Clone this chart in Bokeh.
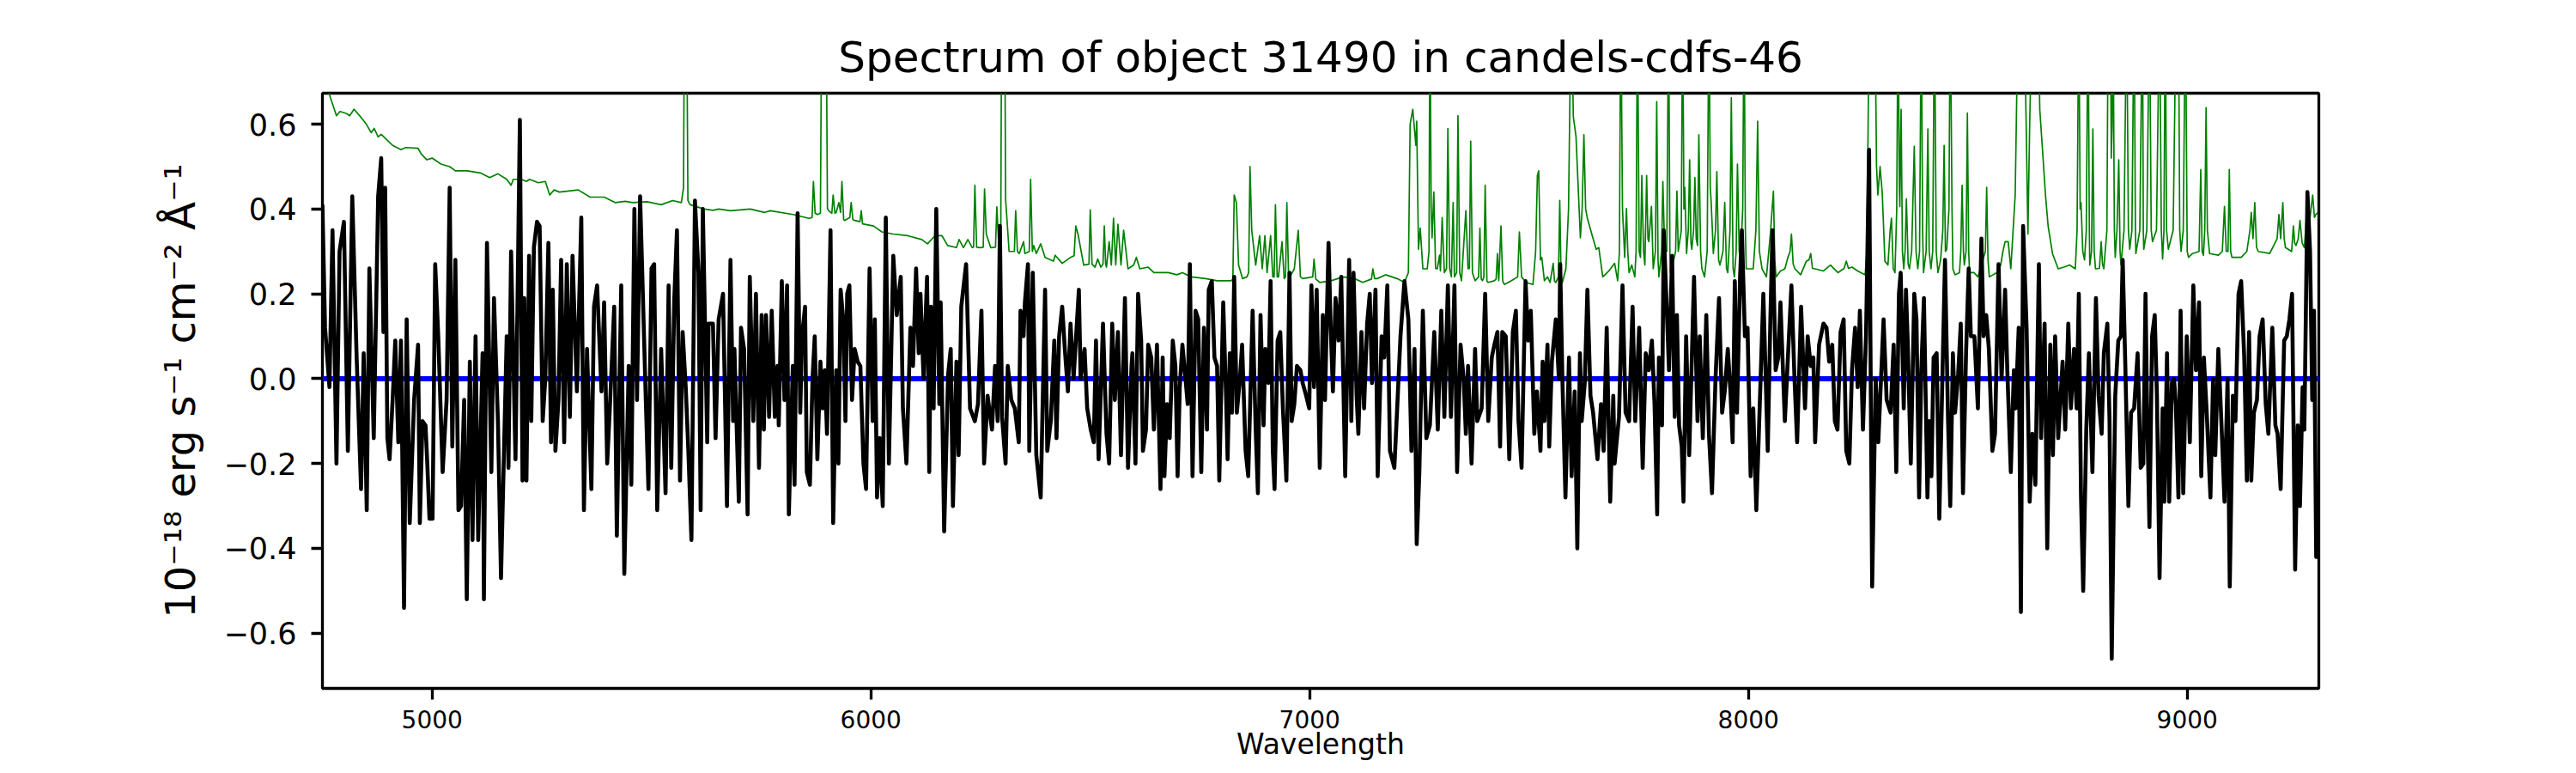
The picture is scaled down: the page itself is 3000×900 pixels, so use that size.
from bokeh.plotting import figure
from bokeh.models import Range1d, FixedTicker, CustomJSTickFormatter, ColumnDataSource
from bokeh.embed import file_html
from bokeh.resources import INLINE

TITLE = "Spectrum of object 31490 in candels-cdfs-46"
X_LABEL = "Wavelength"
Y_LABEL = "10\u207b\u00b9\u2078 erg s\u207b\u00b9 cm\u207b\u00b2 \u00c5\u207b\u00b9"
x_ticks = [5000, 6000, 7000, 8000, 9000]
y_ticks = [-0.6, -0.4, -0.2, 0.0, 0.2, 0.4, 0.6]
x_limits = (4750, 9300)
y_limits = (-0.73, 0.673)

flux_4750_5680 = [
    (4750,0.41),(4756,0.12),(4766,-0.02),(4773,0.35),(4782,-0.20),(4789,0.30),(4799,0.37),(4808,-0.17),(4818,0.43),(4828,0.05),
    (4838,-0.26),(4844,0.06),(4851,-0.31),(4857,0.26),(4867,-0.14),(4877,0.43),(4884,0.52),(4889,0.11),(4893,0.45),(4898,-0.14),
    (4903,-0.19),(4910,-0.05),(4916,0.09),(4923,-0.15),(4929,0.09),(4936,-0.54),(4942,0.14),(4949,-0.34),(4959,-0.05),(4968,0.08),
    (4972,-0.34),(4978,-0.10),(4985,-0.11),(4989,-0.20),(4994,-0.33),(5001,-0.33),(5007,0.27),(5014,0.10),(5024,-0.22),(5033,-0.05),
    (5040,0.45),(5046,-0.16),(5053,0.28),(5060,-0.31),(5066,-0.30),(5073,-0.05),(5079,-0.52),(5086,0.04),(5092,-0.38),(5099,0.10),
    (5105,-0.38),(5115,0.06),(5118,-0.52),(5125,0.32),(5135,-0.22),(5141,0.19),(5150,-0.10),(5157,-0.47),(5170,0.10),(5174,-0.21),
    (5180,0.30),(5190,-0.19),(5200,0.61),(5206,-0.24),(5210,0.19),(5215,-0.24),(5221,0.29),(5226,-0.10),(5232,0.31),(5239,0.37),
    (5245,0.36),(5252,-0.10),(5258,0.00),(5265,0.32),(5271,-0.15),(5275,0.21),(5281,-0.17),(5288,-0.05),(5294,0.28),(5301,-0.15),
    (5307,0.27),(5314,-0.09),(5320,0.29),(5330,-0.03),(5340,0.38),(5346,-0.31),(5353,0.07),(5363,-0.26),(5369,0.17),(5376,0.22),
    (5386,-0.03),(5392,0.18),(5399,-0.20),(5405,-0.07),(5415,0.17),(5421,-0.37),(5431,0.22),(5438,-0.46),(5448,0.03),(5454,-0.25),
    (5461,0.40),(5467,-0.05),(5474,0.43),(5480,0.21),(5487,-0.05),(5493,-0.26),(5500,0.26),(5506,0.27),(5513,-0.31),(5522,0.07),
    (5532,-0.27),(5539,0.22),(5545,-0.21),(5552,0.19),(5558,0.35),(5565,-0.24),(5571,0.11),(5578,-0.02),(5584,-0.17),(5591,-0.38),
    (5599,0.42),(5607,0.25),(5612,-0.31),(5617,0.40),(5627,-0.15),(5630,0.13),(5640,0.13),(5646,-0.14),(5653,0.14),(5663,0.20),
    (5672,-0.30),
]
flux_5680_6600 = [
    (5680,0.28),(5686,-0.10),(5689,0.07),(5699,-0.29),(5704,0.12),(5711,0.07),(5719,-0.32),(5724,0.24),(5732,-0.10),(5738,0.20),
    (5745,-0.21),(5751,0.15),(5756,-0.12),(5761,0.15),(5768,-0.09),(5774,0.16),(5781,-0.09),(5787,0.03),(5790,-0.11),(5797,0.23),
    (5803,-0.05),(5809,0.22),(5813,-0.32),(5822,0.03),(5826,-0.25),(5833,0.39),(5839,-0.08),(5843,0.10),(5850,0.17),(5854,-0.22),
    (5861,-0.25),(5867,0.00),(5872,0.10),(5878,-0.19),(5885,0.04),(5890,-0.07),(5895,0.02),(5900,-0.13),(5908,0.35),(5914,-0.34),
    (5921,0.02),(5926,-0.20),(5931,0.21),(5937,0.14),(5942,-0.10),(5946,0.20),(5951,0.22),(5957,-0.05),(5963,0.07),(5970,0.04),
    (5976,0.03),(5983,-0.20),(5989,-0.26),(5997,0.26),(6004,-0.10),(6009,0.14),(6014,-0.28),(6020,-0.14),(6027,-0.30),(6034,0.38),
    (6041,-0.20),(6051,0.29),(6059,0.15),(6068,0.24),(6073,-0.07),(6081,-0.20),(6090,0.12),(6096,0.03),(6103,0.26),(6109,0.06),
    (6113,0.20),(6120,0.00),(6128,0.24),(6133,-0.22),(6137,0.17),(6143,-0.07),(6149,0.40),(6156,-0.06),(6159,0.18),(6167,-0.36),
    (6176,0.01),(6182,0.07),(6187,-0.30),(6195,0.04),(6200,-0.18),(6206,0.17),(6217,0.27),(6226,-0.07),(6237,-0.10),(6244,-0.06),
    (6252,0.16),(6258,-0.20),(6266,-0.04),(6276,-0.12),(6283,0.03),(6289,-0.10),(6294,0.36),(6299,-0.09),(6307,-0.20),(6312,0.03),
    (6320,-0.05),(6328,-0.07),(6337,-0.15),(6341,0.16),(6348,0.10),(6351,0.18),(6358,0.27),(6361,-0.17),(6369,0.25),(6377,-0.18),
    (6387,-0.28),(6397,0.21),(6402,-0.17),(6410,-0.10),(6418,0.09),(6423,-0.14),(6429,0.10),(6436,0.17),(6442,0.07),(6449,-0.03),
    (6455,0.13),(6462,0.00),(6474,0.21),(6478,0.00),(6487,0.07),(6493,-0.07),(6501,-0.12),(6508,-0.15),(6513,0.09),(6519,-0.19),
    (6529,0.13),(6537,-0.13),(6543,-0.20),(6550,0.13),(6556,-0.05),(6563,0.11),(6570,-0.18),(6579,0.19),(6586,-0.21),(6594,0.03),
]
flux_6600_7515 = [
    (6596,0.06),(6603,-0.20),(6609,0.20),(6616,0.09),(6620,-0.17),(6627,-0.12),(6632,0.08),(6639,0.05),(6645,-0.12),(6652,0.08),
    (6660,-0.26),(6665,0.05),(6669,-0.23),(6675,-0.06),(6681,-0.14),(6688,0.09),(6694,0.03),(6699,-0.23),(6704,-0.02),(6710,0.08),
    (6717,0.00),(6722,-0.06),(6727,0.27),(6733,-0.23),(6740,0.16),(6746,0.14),(6753,-0.22),(6759,0.12),(6766,-0.12),(6770,0.21),
    (6777,0.23),(6783,0.05),(6789,0.03),(6794,-0.24),(6803,0.18),(6810,-0.06),(6813,-0.19),(6818,0.06),(6823,-0.08),(6828,0.24),
    (6834,-0.08),(6841,0.00),(6846,0.08),(6854,-0.17),(6860,-0.23),(6870,0.16),(6877,-0.12),(6882,-0.27),(6888,0.15),(6895,-0.11),
    (6899,0.07),(6906,-0.01),(6911,0.23),(6916,-0.17),(6920,-0.26),(6927,0.09),(6933,0.11),(6939,-0.07),(6947,-0.24),(6954,0.25),
    (6959,-0.10),(6965,-0.06),(6971,0.03),(6979,0.02),(6984,-0.01),(6992,-0.04),(6999,-0.07),(7004,0.22),(7010,-0.02),(7016,0.21),
    (7023,-0.21),(7030,0.15),(7035,-0.05),(7043,0.32),(7048,0.12),(7053,-0.03),(7059,0.19),(7066,0.09),(7072,0.24),(7081,-0.23),
    (7090,0.28),(7095,-0.10),(7100,0.25),(7107,-0.04),(7111,-0.13),(7118,0.11),(7124,-0.07),(7131,0.13),(7137,0.20),(7142,-0.01),
    (7150,0.21),(7155,-0.23),(7164,0.10),(7170,0.05),(7177,0.22),(7183,-0.17),(7193,-0.21),(7199,-0.08),(7207,0.10),(7216,0.23),
    (7225,0.14),(7232,-0.17),(7239,0.07),(7244,-0.39),(7250,-0.22),(7258,0.16),(7266,-0.14),(7274,-0.11),(7284,0.11),(7292,-0.12),
    (7300,0.16),(7307,-0.09),(7315,0.22),(7322,-0.09),(7330,0.22),(7336,-0.22),(7344,0.08),(7351,0.00),(7356,-0.13),(7361,0.03),
    (7369,-0.20),(7377,0.07),(7382,-0.10),(7392,-0.07),(7400,0.20),(7407,-0.10),(7415,0.05),(7421,0.08),(7428,0.11),(7434,-0.16),
    (7439,0.11),(7447,0.10),(7455,-0.19),(7463,0.11),(7470,0.16),(7476,-0.10),(7483,-0.21),(7492,0.23),(7498,0.09),(7504,0.16),
    (7512,-0.13),
]
flux_7515_8440 = [
    (7518,-0.03),(7526,-0.17),(7531,0.04),(7535,-0.10),(7542,0.08),(7546,-0.16),(7552,0.04),(7561,0.14),(7568,0.00),(7571,0.27),
    (7576,0.00),(7583,-0.28),(7591,0.05),(7597,-0.23),(7604,-0.03),(7610,-0.40),(7616,0.06),(7620,-0.10),(7627,-0.01),(7633,0.21),
    (7640,-0.04),(7646,-0.08),(7656,-0.19),(7664,-0.06),(7670,-0.17),(7677,0.12),(7685,-0.29),(7692,-0.04),(7695,-0.20),(7705,-0.09),
    (7713,0.22),(7720,-0.08),(7728,-0.10),(7736,0.17),(7742,-0.10),(7751,0.12),(7759,-0.21),(7766,0.06),(7773,0.02),(7780,0.09),
    (7786,-0.06),(7792,-0.32),(7796,0.05),(7803,-0.11),(7807,0.35),(7814,0.16),(7819,0.02),(7826,0.29),(7832,-0.09),(7837,0.15),
    (7842,-0.11),(7848,-0.16),(7852,-0.29),(7858,0.10),(7865,-0.18),(7870,0.01),(7876,0.24),(7884,-0.10),(7889,0.10),(7896,-0.14),
    (7904,0.15),(7910,-0.13),(7917,-0.27),(7925,0.00),(7933,0.19),(7940,-0.08),(7946,-0.03),(7953,0.07),(7959,-0.03),(7964,-0.15),
    (7969,0.23),(7974,-0.08),(7981,0.24),(7985,0.35),(7992,0.10),(7998,0.12),(8005,-0.23),(8011,-0.07),(8018,-0.31),(8024,-0.12),
    (8034,0.20),(8044,-0.17),(8050,0.14),(8055,0.35),(8062,0.02),(8068,0.05),(8073,0.18),(8083,-0.10),(8090,0.05),(8098,0.22),
    (8105,0.00),(8111,-0.15),(8120,0.17),(8129,-0.07),(8135,0.10),(8142,0.03),(8148,0.05),(8152,-0.15),(8161,0.08),(8171,0.13),
    (8178,0.12),(8184,0.04),(8191,0.08),(8197,-0.10),(8203,-0.12),(8210,0.11),(8217,0.14),(8223,-0.17),(8230,-0.20),(8236,0.02),
    (8243,0.12),(8249,-0.02),(8254,0.16),(8261,-0.12),(8268,0.10),(8275,0.54),(8282,-0.49),(8290,0.00),(8296,-0.15),(8308,0.14),
    (8315,-0.05),(8324,-0.08),(8331,0.08),(8337,-0.22),(8343,0.20),(8347,0.25),(8354,-0.07),(8359,0.21),(8363,0.09),(8370,-0.20),
    (8378,0.20),(8383,0.14),(8389,-0.28),(8394,0.02),(8400,0.19),(8408,-0.28),(8412,-0.10),(8417,-0.23),(8422,0.05),(8429,0.06),
    (8435,-0.33),
]
flux_8440_9300 = [
    (8448,0.28),(8455,-0.10),(8460,-0.30),(8466,0.06),(8471,-0.08),(8478,0.01),(8484,0.13),(8489,-0.27),(8496,0.06),(8502,0.26),
    (8507,0.10),(8515,0.10),(8523,-0.07),(8531,0.33),(8536,0.10),(8542,0.15),(8548,0.07),(8556,-0.17),(8562,-0.13),(8570,0.27),
    (8577,0.00),(8585,0.21),(8590,0.02),(8598,-0.22),(8605,0.02),(8609,-0.07),(8616,0.12),(8621,-0.55),(8626,0.36),(8634,0.12),
    (8641,-0.29),(8647,-0.13),(8654,-0.25),(8662,0.27),(8667,-0.14),(8675,0.13),(8681,-0.40),(8688,0.08),(8694,-0.18),(8699,0.10),
    (8706,-0.14),(8716,0.04),(8722,-0.12),(8729,0.13),(8735,-0.07),(8742,0.07),(8748,-0.07),(8753,0.20),(8758,-0.28),(8763,-0.50),
    (8770,-0.12),(8776,0.06),(8784,-0.22),(8792,0.19),(8798,-0.04),(8805,-0.13),(8810,0.06),(8818,0.13),(8823,-0.10),(8828,-0.66),
    (8836,-0.04),(8843,0.09),(8849,0.10),(8853,0.28),(8859,0.03),(8866,-0.30),(8872,-0.08),(8879,-0.07),(8887,0.06),(8894,-0.21),
    (8900,-0.20),(8905,0.20),(8909,-0.10),(8914,-0.35),(8920,0.10),(8926,0.15),(8931,-0.04),(8937,-0.47),(8944,-0.07),(8948,-0.29),
    (8954,0.06),(8959,-0.29),(8965,-0.01),(8970,0.00),(8974,-0.06),(8980,-0.28),(8985,0.16),(8991,-0.27),(8999,0.10),(9006,-0.15),
    (9014,0.22),(9020,0.02),(9027,0.18),(9032,-0.23),(9038,0.05),(9045,-0.09),(9053,-0.28),(9059,0.00),(9064,-0.18),(9071,0.07),
    (9079,-0.13),(9085,-0.29),(9092,0.00),(9097,-0.49),(9104,-0.04),(9110,-0.10),(9117,0.20),(9123,0.23),(9130,0.05),(9136,-0.24),
    (9141,0.11),(9146,-0.24),(9152,-0.08),(9159,-0.05),(9165,0.10),(9172,0.14),(9179,-0.06),(9185,-0.13),(9194,0.12),(9201,-0.11),
    (9206,-0.13),(9213,-0.26),(9221,0.09),(9227,0.10),(9233,0.14),(9239,0.20),(9246,-0.45),(9252,-0.11),(9257,-0.30),(9263,-0.02),
    (9267,-0.12),(9274,0.44),(9280,0.30),(9285,-0.05),(9289,0.16),(9294,-0.42),(9298,-0.42),
]

# sky / noise spectrum (wavelength, value); peaks above the frame are clipped
sky_4750_5700 = [
    (4750,0.75),(4760,0.69),(4769,0.66),(4782,0.62),(4790,0.63),(4805,0.625),(4812,0.62),(4822,0.635),(4838,0.616),(4850,0.60),
    (4861,0.58),(4868,0.59),(4877,0.57),(4884,0.576),(4900,0.56),(4910,0.55),(4929,0.54),(4940,0.545),(4968,0.543),(4975,0.53),
    (4988,0.516),(5000,0.52),(5020,0.506),(5040,0.50),(5053,0.49),(5080,0.49),(5092,0.488),(5110,0.485),(5131,0.474),(5144,0.48),
    (5150,0.483),(5170,0.47),(5180,0.456),(5185,0.47),(5203,0.47),(5215,0.465),(5222,0.47),(5242,0.462),(5258,0.465),(5268,0.433),
    (5278,0.445),(5290,0.44),(5307,0.442),(5333,0.445),(5360,0.428),(5392,0.428),(5418,0.415),(5440,0.418),(5457,0.415),(5490,0.417),
    (5522,0.41),(5548,0.42),(5568,0.415),(5573,0.45),(5575,0.9),(5580,0.9),(5583,0.42),(5588,0.41),(5620,0.40),(5640,0.397),
    (5653,0.40),(5680,0.396),
]
sky_5700_6600 = [
    (5725,0.40),(5758,0.392),(5771,0.396),(5823,0.387),(5859,0.378),(5866,0.38),(5869,0.465),(5873,0.39),(5878,0.387),(5885,0.39),
    (5888,0.9),(5898,0.9),(5901,0.40),(5904,0.396),(5911,0.39),(5914,0.433),(5918,0.39),(5921,0.392),(5927,0.415),(5931,0.392),
    (5934,0.465),(5938,0.375),(5940,0.373),(5952,0.38),(5955,0.415),(5959,0.375),(5963,0.373),(5975,0.37),(5978,0.396),(5981,0.365),
    (5986,0.364),(6006,0.36),(6025,0.346),(6051,0.341),(6084,0.337),(6116,0.328),(6129,0.318),(6146,0.337),(6162,0.337),(6175,0.314),
    (6195,0.309),(6201,0.328),(6211,0.309),(6221,0.328),(6231,0.309),(6234,0.31),(6237,0.456),(6241,0.31),(6250,0.309),(6256,0.31),
    (6259,0.447),(6263,0.341),(6273,0.309),(6284,0.31),(6287,0.405),(6291,0.323),(6296,0.33),(6298,0.9),(6305,0.9),(6307,0.424),
    (6315,0.30),(6327,0.30),(6330,0.396),(6334,0.30),(6338,0.295),(6348,0.323),(6351,0.295),(6361,0.30),(6364,0.47),(6368,0.30),
    (6371,0.314),(6377,0.295),(6387,0.318),(6397,0.286),(6416,0.277),(6420,0.291),(6436,0.272),(6455,0.286),(6463,0.29),(6467,0.36),
    (6472,0.341),(6485,0.268),(6497,0.27),(6500,0.398),(6504,0.27),(6511,0.263),(6517,0.282),(6524,0.263),(6529,0.27),(6532,0.36),
    (6535,0.27),(6537,0.263),(6543,0.323),(6548,0.268),(6553,0.378),(6558,0.268),(6563,0.364),(6570,0.268),(6576,0.35),(6586,0.259),
    (6599,0.268),
]
sky_6600_7520 = [
    (6605,0.286),(6613,0.259),(6632,0.263),(6645,0.25),(6678,0.25),(6697,0.245),(6710,0.25),(6730,0.24),(6763,0.236),(6789,0.231),
    (6821,0.231),(6825,0.235),(6828,0.433),(6833,0.415),(6838,0.268),(6847,0.236),(6857,0.24),(6861,0.25),(6864,0.50),(6868,0.35),
    (6877,0.268),(6886,0.337),(6892,0.259),(6898,0.337),(6903,0.25),(6911,0.337),(6916,0.24),(6919,0.24),(6922,0.41),(6926,0.24),
    (6929,0.24),(6937,0.323),(6942,0.236),(6945,0.24),(6948,0.415),(6952,0.24),(6955,0.24),(6965,0.259),(6974,0.35),(6979,0.24),
    (6984,0.236),(7007,0.24),(7010,0.282),(7014,0.235),(7023,0.227),(7049,0.231),(7076,0.24),(7102,0.236),(7121,0.227),(7141,0.235),
    (7144,0.259),(7148,0.236),(7154,0.236),(7173,0.245),(7199,0.236),(7216,0.227),(7225,0.25),(7229,0.60),(7235,0.635),(7242,0.55),
    (7244,0.607),(7248,0.305),(7252,0.355),(7258,0.259),(7268,0.259),(7272,0.30),(7274,0.9),(7277,0.40),(7279,0.332),(7283,0.44),
    (7287,0.26),(7291,0.259),(7296,0.291),(7298,0.254),(7302,0.38),(7307,0.25),(7312,0.26),(7315,0.59),(7319,0.26),(7323,0.24),
    (7327,0.415),(7330,0.24),(7335,0.25),(7338,0.62),(7342,0.25),(7346,0.231),(7356,0.396),(7361,0.259),(7364,0.26),(7367,0.56),
    (7371,0.25),(7377,0.231),(7385,0.24),(7388,0.355),(7391,0.235),(7394,0.231),(7397,0.24),(7400,0.456),(7404,0.23),(7407,0.227),
    (7421,0.231),(7425,0.235),(7428,0.295),(7431,0.231),(7436,0.36),(7440,0.23),(7444,0.222),(7460,0.231),(7474,0.24),(7478,0.346),
    (7483,0.24),(7493,0.227),(7509,0.222),(7515,0.30),(7519,0.479),
]
sky_7520_8435 = [
    (7522,0.49),(7526,0.28),(7529,0.286),(7535,0.231),(7542,0.24),(7548,0.227),(7555,0.272),(7558,0.23),(7561,0.227),(7567,0.24),
    (7570,0.42),(7573,0.24),(7576,0.227),(7584,0.259),(7590,0.40),(7596,0.9),(7601,0.617),(7607,0.571),(7617,0.332),(7621,0.40),
    (7625,0.575),(7629,0.40),(7633,0.378),(7643,0.341),(7653,0.305),(7659,0.309),(7668,0.24),(7682,0.254),(7695,0.272),(7702,0.231),
    (7706,0.30),(7709,0.9),(7713,0.40),(7718,0.286),(7722,0.401),(7725,0.30),(7728,0.25),(7734,0.268),(7741,0.24),(7744,0.30),
    (7747,0.9),(7751,0.30),(7754,0.286),(7757,0.479),(7761,0.30),(7764,0.268),(7768,0.479),(7771,0.33),(7773,0.323),(7779,0.406),
    (7783,0.259),(7788,0.30),(7791,0.653),(7794,0.28),(7796,0.24),(7802,0.30),(7805,0.465),(7809,0.305),(7814,0.30),(7818,0.9),
    (7821,0.30),(7822,0.25),(7829,0.277),(7834,0.30),(7837,0.442),(7840,0.30),(7842,0.314),(7847,0.35),(7850,0.9),(7853,0.40),
    (7855,0.451),(7859,0.295),(7863,0.35),(7866,0.516),(7869,0.32),(7871,0.305),(7875,0.35),(7878,0.474),(7881,0.33),(7884,0.314),
    (7887,0.575),(7891,0.30),(7894,0.259),(7900,0.24),(7906,0.30),(7910,0.9),(7913,0.45),(7915,0.419),(7920,0.295),(7925,0.35),
    (7928,0.488),(7932,0.28),(7935,0.268),(7942,0.30),(7946,0.415),(7950,0.26),(7953,0.25),(7958,0.35),(7961,0.662),(7965,0.26),
    (7968,0.24),(7972,0.30),(7975,0.506),(7979,0.30),(7982,0.286),(7987,0.40),(7990,0.9),(7993,0.35),(7995,0.259),(8011,0.259),
    (8017,0.35),(8021,0.607),(8025,0.30),(8031,0.259),(8041,0.24),(8050,0.341),(8054,0.40),(8057,0.442),(8060,0.28),(8063,0.24),
    (8073,0.254),(8083,0.259),(8090,0.286),(8095,0.30),(8098,0.341),(8102,0.27),(8106,0.259),(8119,0.245),(8132,0.277),(8138,0.28),
    (8142,0.295),(8146,0.26),(8152,0.259),(8171,0.254),(8187,0.268),(8204,0.25),(8218,0.26),(8223,0.277),(8228,0.26),(8236,0.263),
    (8249,0.254),(8266,0.245),(8270,0.30),(8273,0.62),(8275,0.9),(8282,0.9),(8288,0.9),(8292,0.50),(8295,0.433),(8300,0.50),
    (8305,0.438),(8311,0.277),(8318,0.268),(8323,0.35),(8326,0.378),(8330,0.26),(8334,0.25),(8338,0.40),(8341,0.9),(8344,0.45),
    (8345,0.406),(8348,0.635),(8351,0.30),(8354,0.259),(8357,0.30),(8360,0.424),(8364,0.27),(8367,0.259),(8372,0.30),(8378,0.548),
    (8382,0.30),(8386,0.259),(8390,0.30),(8394,0.9),(8397,0.35),(8399,0.25),(8405,0.30),(8409,0.589),(8412,0.30),(8416,0.259),
    (8420,0.30),(8424,0.9),(8428,0.30),(8432,0.25),
]
sky_8435_9300 = [
    (8438,0.28),(8443,0.35),(8446,0.55),(8449,0.30),(8452,0.305),(8457,0.40),(8460,0.9),(8464,0.40),(8466,0.259),(8471,0.245),
    (8481,0.25),(8484,0.30),(8487,0.456),(8490,0.30),(8492,0.268),(8496,0.30),(8499,0.626),(8502,0.30),(8504,0.25),(8514,0.25),
    (8523,0.24),(8536,0.286),(8540,0.30),(8543,0.451),(8546,0.28),(8549,0.24),(8566,0.25),(8575,0.268),(8580,0.30),(8585,0.323),
    (8592,0.323),(8598,0.259),(8608,0.433),(8612,0.70),(8615,0.9),(8628,0.9),(8633,0.60),(8637,0.341),(8641,0.60),(8647,0.9),
    (8660,0.9),(8664,0.635),(8670,0.543),(8677,0.433),(8683,0.36),(8693,0.295),(8706,0.259),(8719,0.263),(8732,0.268),(8745,0.259),
    (8749,0.35),(8753,0.9),(8756,0.40),(8758,0.415),(8762,0.30),(8766,0.28),(8770,0.35),(8774,0.9),(8777,0.35),(8778,0.268),
    (8782,0.30),(8785,0.589),(8788,0.30),(8791,0.259),(8800,0.26),(8804,0.323),(8807,0.27),(8810,0.259),(8817,0.35),(8820,0.9),
    (8825,0.9),(8827,0.52),(8829,0.60),(8831,0.9),(8834,0.35),(8836,0.286),(8840,0.35),(8844,0.516),(8847,0.30),(8849,0.268),
    (8856,0.35),(8862,0.9),(8866,0.35),(8869,0.305),(8874,0.35),(8879,0.9),(8882,0.35),(8883,0.295),(8892,0.35),(8898,0.9),
    (8900,0.35),(8901,0.305),(8908,0.35),(8914,0.9),(8918,0.35),(8921,0.323),(8930,0.35),(8937,0.9),(8941,0.35),(8944,0.282),
    (8947,0.35),(8950,0.9),(8953,0.35),(8957,0.305),(8968,0.35),(8975,0.9),(8980,0.9),(8983,0.35),(8986,0.30),(8991,0.35),
    (8996,0.9),(9000,0.30),(9003,0.286),(9012,0.295),(9027,0.30),(9031,0.493),(9034,0.30),(9037,0.291),(9040,0.35),(9043,0.639),
    (9046,0.35),(9051,0.295),(9071,0.291),(9080,0.30),(9085,0.406),(9089,0.30),(9093,0.30),(9096,0.493),(9099,0.30),(9102,0.286),
    (9123,0.286),(9136,0.30),(9143,0.35),(9146,0.392),(9150,0.33),(9154,0.415),(9158,0.31),(9162,0.30),(9188,0.295),(9205,0.33),
    (9209,0.387),(9213,0.33),(9218,0.415),(9221,0.33),(9224,0.309),(9238,0.30),(9242,0.36),(9245,0.32),(9248,0.314),(9253,0.33),
    (9257,0.373),(9262,0.32),(9267,0.309),(9273,0.396),(9280,0.38),(9286,0.433),(9290,0.38),(9293,0.387),(9298,0.392),
]

# model (zero continuum)
model_wave = [4750, 9300]
model_flux = [0.0, 0.0]

flux_pairs = flux_4750_5680 + flux_5680_6600 + flux_6600_7515 + flux_7515_8440 + flux_8440_9300
sky_pairs = sky_4750_5700 + sky_5700_6600 + sky_6600_7520 + sky_7520_8435 + sky_8435_9300

flux_src = ColumnDataSource(dict(w=[a for a, b in flux_pairs], f=[b for a, b in flux_pairs]))
sky_src = ColumnDataSource(dict(w=[a for a, b in sky_pairs], f=[b for a, b in sky_pairs]))
model_src = ColumnDataSource(dict(w=model_wave, f=model_flux))

FONT = "DejaVu Sans"

p = figure(width=2984, height=892, output_backend="svg", toolbar_location=None,
           x_range=Range1d(*x_limits), y_range=Range1d(*y_limits),
           min_border_left=375, min_border_right=284, min_border_top=108, min_border_bottom=91,
           title=TITLE)

p.title.text_font = FONT
p.title.text_font_size = "50px"
p.title.text_font_style = "normal"
p.title.text_color = "black"
p.title.align = "center"
p.title.standoff = 26

p.line("w", "f", source=sky_src, line_color="#008000", line_width=1.7, line_join="round")
p.line("w", "f", source=model_src, line_color="#0000ff", line_width=6)
p.line("w", "f", source=flux_src, line_color="black", line_width=4.6, line_join="round")

p.grid.visible = False
p.background_fill_color = "white"
p.border_fill_color = "white"
p.outline_line_color = "black"
p.outline_line_width = 3.3
p.outline_line_alpha = 1.0

for ax in (p.xaxis[0], p.yaxis[0]):
    ax.axis_line_color = None
    ax.major_tick_line_color = "black"
    ax.major_tick_line_width = 3.3
    ax.major_tick_out = 13
    ax.major_tick_in = 0
    ax.minor_tick_line_color = None
    ax.major_label_text_font = FONT
    ax.major_label_text_color = "black"
    ax.axis_label_text_font = FONT
    ax.axis_label_text_font_style = "normal"
    ax.axis_label_text_color = "black"

p.xaxis.ticker = FixedTicker(ticks=x_ticks)
p.xaxis.major_label_text_font_size = "28px"
p.xaxis.major_label_standoff = 12
p.xaxis.axis_label = X_LABEL
p.xaxis.axis_label_text_font_size = "33px"
p.xaxis.axis_label_standoff = -4

p.yaxis.ticker = FixedTicker(ticks=y_ticks)
p.yaxis.formatter = CustomJSTickFormatter(code="return tick.toFixed(1).replace('-', '\\u2212');")
p.yaxis.major_label_text_font_size = "35px"
p.yaxis.major_label_standoff = 17
p.yaxis.axis_label = Y_LABEL
p.yaxis.axis_label_text_font_size = "48px"
p.yaxis.axis_label_standoff = 20

open("out.html", "w").write(file_html(p, INLINE))
